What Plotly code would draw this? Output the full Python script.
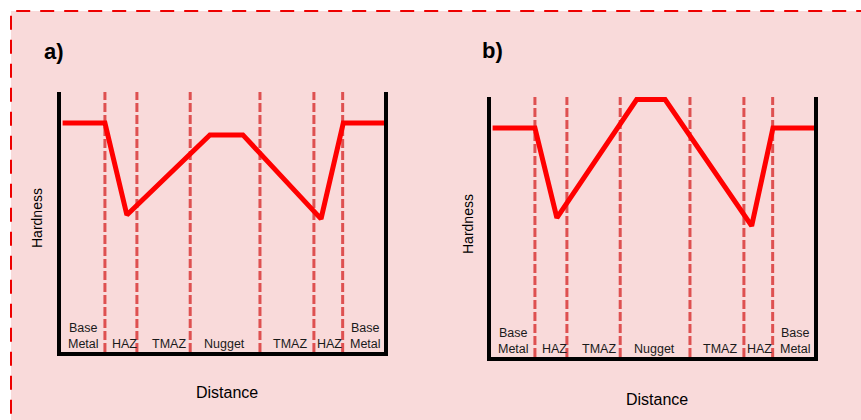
import plotly.graph_objects as go

W, H = 861, 420

# Zone boundaries (distance units, 0-100 across each panel)
zone_bounds = [13.6, 23.5, 40.0, 61.6, 78.3, 87.2]
zone_labels = ["Base<br>Metal", "HAZ", "TMAZ", "Nugget", "TMAZ", "HAZ", "Base<br>Metal"]
zone_label_x = [6.9, 19.8, 33.5, 50.6, 70.9, 83.0, 94.3]

# Hardness profiles (relative units)
a_dist = [0.5, 13.6, 20.4, 46.1, 56.3, 80.5, 87.4, 100]
a_hard = [88.1, 88.1, 52.7, 83.5, 83.5, 51.2, 88.1, 88.1]

b_dist = [0.5, 13.6, 20.4, 45.1, 53.9, 80.7, 87.3, 100]
b_hard = [88.1, 88.1, 53.5, 99.0, 99.0, 50.4, 88.1, 88.1]

panel_titles = ["a)", "b)"]

FONT = "Liberation Sans, Arial, sans-serif"

def px(x):
    return x / W

def py(y):
    return 1 - y / H

fig = go.Figure()

panels = [
    dict(xd=(491 - 430, 814 - 430), yd=(92, 352), dist=a_dist, hard=a_hard, xa="x", ya="y",
         title_pos=(54, 51), hard_pos=(37, 218), dist_pos=(227, 392)),
    dict(xd=(491, 814), yd=(97, 357), dist=b_dist, hard=b_hard, xa="x2", ya="y2",
         title_pos=(493, 50), hard_pos=(468, 224), dist_pos=(657, 399)),
]

for i, p in enumerate(panels):
    # dashed zone boundaries
    vx, vy = [], []
    for b in zone_bounds:
        vx += [b, b, None]
        vy += [0, 100, None]
    fig.add_trace(go.Scatter(x=vx, y=vy, mode="lines", xaxis=p["xa"], yaxis=p["ya"],
                             line=dict(color="#DE5050", width=3, dash="9px,3px"),
                             hoverinfo="skip", showlegend=False))
    # hardness profile
    fig.add_trace(go.Scatter(x=p["dist"], y=p["hard"], mode="lines", xaxis=p["xa"], yaxis=p["ya"],
                             line=dict(color="#FF0000", width=5), showlegend=False))
    # zone labels
    for lx, lt in zip(zone_label_x, zone_labels):
        two = "<br>" in lt
        fig.add_annotation(x=lx, y=6.2 if two else 3.2, xref=p["xa"], yref=p["ya"], text=lt,
                           showarrow=False, xanchor="center", yanchor="middle",
                           font=dict(family=FONT, size=12.5, color="#1a1a1a"))
    # panel title
    fig.add_annotation(x=px(p["title_pos"][0]), y=py(p["title_pos"][1]), xref="paper", yref="paper",
                       text="<b>" + panel_titles[i] + "</b>", showarrow=False,
                       xanchor="center", yanchor="middle",
                       font=dict(family=FONT, size=22, color="#000000"))
    fig.add_annotation(x=px(p["hard_pos"][0]), y=py(p["hard_pos"][1]), xref="paper", yref="paper",
                       text="Hardness", textangle=-90, showarrow=False,
                       xanchor="center", yanchor="middle",
                       font=dict(family=FONT, size=14, color="#000000"))
    fig.add_annotation(x=px(p["dist_pos"][0]), y=py(p["dist_pos"][1]), xref="paper", yref="paper",
                       text="Distance", showarrow=False,
                       xanchor="center", yanchor="middle",
                       font=dict(family=FONT, size=16, color="#000000"))

axis_common = dict(showgrid=False, zeroline=False, showticklabels=False, ticks="", fixedrange=True)

layout = dict(
    width=W, height=H,
    margin=dict(l=0, r=0, t=0, b=0),
    paper_bgcolor="white",
    plot_bgcolor="rgba(0,0,0,0)",
    showlegend=False,
    shapes=[dict(type="rect", xref="paper", yref="paper", layer="below",
                 x0=px(11), x1=1.1, y0=-0.1, y1=py(11),
                 fillcolor="#F9DADA",
                 line=dict(color="#EE0000", width=2, dash="14px,10px"))],
)
for i, p in enumerate(panels):
    sfx = "" if i == 0 else "2"
    layout["xaxis" + sfx] = dict(domain=[px(p["xd"][0]), px(p["xd"][1])], range=[0, 100],
                                 showline=True, linecolor="black", linewidth=4, mirror=False,
                                 anchor="y" + sfx, **axis_common)
    layout["yaxis" + sfx] = dict(domain=[py(p["yd"][1]), py(p["yd"][0])], range=[0, 100],
                                 showline=True, linecolor="black", linewidth=4, mirror=True,
                                 anchor="x" + sfx, **axis_common)

fig.update_layout(**layout)
fig.write_html("out.html")
